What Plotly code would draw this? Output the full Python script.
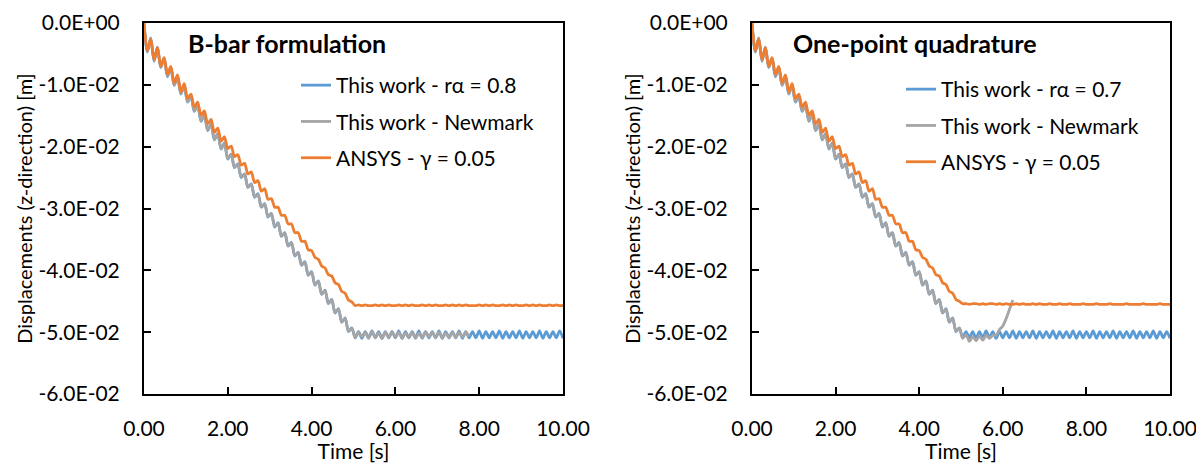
import numpy as np
import plotly.graph_objects as go

# ---------------- data (displacements in units of 1E-2 m) ----------------
time_s = [0.00, 0.08, 0.16, 0.24, 0.32, 0.40, 0.48, 0.56, 0.64, 0.72, 0.80, 0.88, 0.96,
          1.04, 1.12, 1.20, 1.28, 1.36, 1.44, 1.52, 1.60, 1.68, 1.76, 1.84, 1.92, 2.00,
          2.08, 2.16, 2.24, 2.32, 2.40, 2.48, 2.56, 2.64, 2.72, 2.80, 2.88, 2.96, 3.04,
          3.12, 3.20, 3.28, 3.36, 3.44, 3.52, 3.60, 3.68, 3.76, 3.84, 3.92, 4.00, 4.08,
          4.16, 4.24, 4.32, 4.40, 4.48, 4.56, 4.64, 4.72, 4.80, 4.88, 4.96, 5.04, 5.12,
          5.20, 5.28, 5.36, 5.44, 5.52, 5.60, 5.68, 5.76, 5.84, 5.92, 6.00, 6.08, 6.16,
          6.24, 6.32, 6.40, 6.48, 6.56, 6.64, 6.72, 6.80, 6.88, 6.96, 7.04, 7.12, 7.20,
          7.28, 7.36, 7.44, 7.52, 7.60, 7.68, 7.76, 7.84, 7.92, 8.00, 8.08, 8.16, 8.24,
          8.32, 8.40, 8.48, 8.56, 8.64, 8.72, 8.80, 8.88, 8.96, 9.04, 9.12, 9.20, 9.28,
          9.36, 9.44, 9.52, 9.60, 9.68, 9.76, 9.84, 9.92, 10.00]

# B-bar formulation
bbar_thiswork_ra08 = [
    0.00, -0.47, -0.24, -0.62, -0.39, -0.72, -0.57, -0.87, -0.72, -1.01, -0.86, -1.15, -1.01,
    -1.28, -1.18, -1.43, -1.33, -1.59, -1.48, -1.74, -1.63, -1.89, -1.79, -2.04, -1.94, -2.20,
    -2.12, -2.34, -2.28, -2.50, -2.44, -2.66, -2.60, -2.82, -2.76, -2.98, -2.92, -3.14, -3.08,
    -3.30, -3.23, -3.45, -3.39, -3.61, -3.55, -3.77, -3.71, -3.92, -3.86, -4.08, -4.02, -4.24,
    -4.17, -4.39, -4.32, -4.54, -4.47, -4.69, -4.62, -4.84, -4.77, -4.99, -4.93,
    -5.09, -4.99, -5.10, -4.99, -5.09, -4.98, -5.09, -4.99, -5.10, -4.99, -5.09, -4.99, -5.09,
    -4.98, -5.10, -4.99, -5.09, -4.99, -5.09, -4.98, -5.10, -4.99, -5.09, -4.99, -5.09, -4.98,
    -5.10, -4.99, -5.09, -4.99, -5.09, -4.98, -5.10, -4.99, -5.09, -4.99, -5.09, -4.98, -5.10,
    -4.99, -5.09, -4.99, -5.09, -4.98, -5.10, -4.99, -5.09, -4.99, -5.09, -4.98, -5.10, -4.99,
    -5.09, -4.99, -5.09, -4.98, -5.10, -4.99, -5.09, -4.99, -5.09, -4.98, -5.10]
bbar_thiswork_newmark = [
    0.00, -0.46, -0.25, -0.61, -0.40, -0.71, -0.58, -0.86, -0.73, -1.00, -0.87, -1.14, -1.02,
    -1.27, -1.19, -1.42, -1.34, -1.58, -1.49, -1.73, -1.64, -1.88, -1.80, -2.03, -1.95, -2.19,
    -2.13, -2.33, -2.29, -2.49, -2.45, -2.65, -2.61, -2.81, -2.77, -2.97, -2.93, -3.13, -3.09,
    -3.29, -3.24, -3.44, -3.40, -3.60, -3.56, -3.76, -3.72, -3.91, -3.87, -4.07, -4.03, -4.23,
    -4.18, -4.38, -4.33, -4.53, -4.48, -4.68, -4.63, -4.83, -4.78, -4.98, -4.94,
    -5.09, -4.99, -5.08, -5.00, -5.10, -4.99, -5.09, -5.01, -5.10, -5.00, -5.09, -4.99, -5.08,
    -5.00, -5.10, -5.01, -5.09, -5.00, -5.10, -5.01, -5.09, -4.99, -5.08, -5.00, -5.09, -5.00,
    -5.10, -5.01, -5.09, -5.00, -5.09, -5.00, -5.08, -5.00, -5.07]
bbar_ansys_g005 = [
    0.00, -0.45, -0.26, -0.59, -0.40, -0.70, -0.56, -0.83, -0.70, -0.97, -0.84, -1.11, -0.98,
    -1.22, -1.15, -1.36, -1.28, -1.49, -1.42, -1.63, -1.56, -1.77, -1.70, -1.91, -1.84, -2.03,
    -1.99, -2.16, -2.13, -2.30, -2.27, -2.44, -2.41, -2.58, -2.55, -2.72, -2.68, -2.85, -2.84,
    -2.98, -2.98, -3.11, -3.11, -3.25, -3.25, -3.39, -3.39, -3.53, -3.53, -3.67, -3.68, -3.79,
    -3.82, -3.93, -3.96, -4.07, -4.09, -4.20, -4.23, -4.34, -4.37, -4.48, -4.51,
    -4.57, -4.56, -4.57, -4.56, -4.57, -4.57, -4.56, -4.57, -4.56, -4.57, -4.56, -4.57, -4.57,
    -4.56, -4.57, -4.56, -4.57, -4.56, -4.57, -4.57, -4.56, -4.57, -4.56, -4.57, -4.56, -4.57,
    -4.57, -4.56, -4.57, -4.56, -4.57, -4.56, -4.57, -4.56, -4.57, -4.57, -4.57, -4.56, -4.57,
    -4.56, -4.57, -4.56, -4.57, -4.57, -4.56, -4.57, -4.56, -4.57, -4.56, -4.57, -4.57, -4.56,
    -4.57, -4.56, -4.57, -4.56, -4.57, -4.57, -4.56, -4.57, -4.56, -4.57, -4.57]

# One-point quadrature
opq_thiswork_ra07 = [
    0.00, -0.47, -0.24, -0.62, -0.39, -0.72, -0.57, -0.87, -0.72, -1.01, -0.86, -1.15, -1.01,
    -1.28, -1.18, -1.43, -1.33, -1.59, -1.48, -1.74, -1.63, -1.89, -1.79, -2.04, -1.94, -2.20,
    -2.12, -2.34, -2.28, -2.50, -2.44, -2.66, -2.60, -2.82, -2.76, -2.98, -2.92, -3.14, -3.08,
    -3.30, -3.23, -3.45, -3.39, -3.61, -3.55, -3.77, -3.71, -3.92, -3.86, -4.08, -4.02, -4.24,
    -4.17, -4.39, -4.32, -4.54, -4.47, -4.69, -4.62, -4.84, -4.77, -4.99, -4.93,
    -5.09, -4.99, -5.09, -4.99, -5.10, -4.99, -5.09, -4.98, -5.09, -4.99, -5.10, -4.99, -5.09,
    -4.99, -5.09, -4.98, -5.10, -4.99, -5.09, -4.99, -5.09, -4.98, -5.10, -4.99, -5.09, -4.99,
    -5.09, -4.98, -5.10, -4.99, -5.09, -4.99, -5.09, -4.98, -5.10, -4.99, -5.09, -4.99, -5.09,
    -4.98, -5.10, -4.99, -5.09, -4.99, -5.09, -4.98, -5.10, -4.99, -5.09, -4.99, -5.09, -4.98,
    -5.10, -4.99, -5.09, -4.99, -5.09, -4.98, -5.10, -4.99, -5.09, -4.99, -5.10]
opq_thiswork_newmark = [
    0.00, -0.46, -0.25, -0.61, -0.40, -0.71, -0.58, -0.86, -0.73, -1.00, -0.87, -1.14, -1.02,
    -1.27, -1.19, -1.42, -1.34, -1.58, -1.49, -1.73, -1.64, -1.88, -1.80, -2.03, -1.95, -2.19,
    -2.13, -2.33, -2.29, -2.49, -2.45, -2.65, -2.61, -2.81, -2.77, -2.97, -2.93, -3.13, -3.09,
    -3.29, -3.24, -3.44, -3.40, -3.60, -3.56, -3.76, -3.72, -3.91, -3.87, -4.07, -4.03, -4.23,
    -4.18, -4.38, -4.33, -4.53, -4.48, -4.68, -4.63, -4.83, -4.78, -4.98, -4.94,
    -5.10, -5.04, -5.15, -5.07, -5.14, -5.06, -5.13, -5.05, -5.10, -5.05, -5.05, -4.96, -4.90,
    -4.78, -4.63, -4.48]
opq_ansys_g005 = [
    0.00, -0.45, -0.26, -0.59, -0.40, -0.70, -0.56, -0.83, -0.70, -0.97, -0.84, -1.11, -0.98,
    -1.22, -1.15, -1.36, -1.28, -1.49, -1.42, -1.63, -1.56, -1.77, -1.70, -1.91, -1.84, -2.03,
    -1.99, -2.16, -2.13, -2.30, -2.27, -2.44, -2.41, -2.58, -2.55, -2.72, -2.68, -2.85, -2.84,
    -2.98, -2.98, -3.11, -3.11, -3.25, -3.25, -3.39, -3.39, -3.53, -3.53, -3.67, -3.68, -3.79,
    -3.82, -3.93, -3.96, -4.07, -4.09, -4.20, -4.23, -4.34, -4.37, -4.47, -4.50,
    -4.54, -4.54, -4.55, -4.54, -4.54, -4.55, -4.54, -4.55, -4.54, -4.54, -4.55, -4.54, -4.55,
    -4.54, -4.55, -4.55, -4.54, -4.55, -4.54, -4.55, -4.55, -4.54, -4.55, -4.54, -4.55, -4.55,
    -4.54, -4.55, -4.55, -4.54, -4.55, -4.55, -4.54, -4.55, -4.55, -4.55, -4.54, -4.55, -4.55,
    -4.55, -4.54, -4.55, -4.55, -4.55, -4.54, -4.55, -4.55, -4.55, -4.55, -4.54, -4.55, -4.55,
    -4.55, -4.55, -4.54, -4.55, -4.55, -4.55, -4.55, -4.54, -4.55, -4.55, -4.55]

series_names_left = ["This work - rα = 0.8", "This work - Newmark", "ANSYS - γ = 0.05"]
series_names_right = ["This work - rα = 0.7", "This work - Newmark", "ANSYS - γ = 0.05"]
panel_titles = ["B-bar formulation", "One-point quadrature"]
x_tick_values = [0, 2, 4, 6, 8, 10]
x_tick_labels = ["0.00", "2.00", "4.00", "6.00", "8.00", "10.00"]
y_tick_values = [0.0, -0.01, -0.02, -0.03, -0.04, -0.05, -0.06]
y_tick_labels = ["0.0E+00", "-1.0E-02", "-2.0E-02", "-3.0E-02", "-4.0E-02", "-5.0E-02", "-6.0E-02"]

# ---------------- styling ----------------
BLUE, GRAY, ORANGE = "#5B9BD5", "#A5A5A5", "#ED7D31"
FONT = "Lato"
OFF = 8                     # page body margin of the html page
W, H = 1204 - OFF, 463 - OFF
ML, MR, MT, MB = 144 - OFF, 34, 23 - OFF, 69
PW, PH = W - ML - MR, H - MT - MB


def px_x(px):               # viewport pixel -> paper coordinate
    return (px - OFF - ML) / PW


def px_y(py):
    return (H - MB - (py - OFF)) / PH


fig = go.Figure()


def add_series(y_cm, name, color, xa, ya, legend, group):
    y_m = np.array(y_cm) * 1e-2
    fig.add_trace(go.Scatter(
        x=time_s[:len(y_m)], y=y_m, mode="lines", name=name,
        line=dict(color=color, width=2.8, shape="spline", smoothing=0.8),
        xaxis=xa, yaxis=ya, legend=legend, legendgroup=group))


add_series(bbar_thiswork_ra08, series_names_left[0], BLUE, "x", "y", "legend", "a1")
add_series(bbar_thiswork_newmark, series_names_left[1], GRAY, "x", "y", "legend", "a2")
add_series(bbar_ansys_g005, series_names_left[2], ORANGE, "x", "y", "legend", "a3")
add_series(opq_thiswork_ra07, series_names_right[0], BLUE, "x2", "y2", "legend2", "b1")
add_series(opq_thiswork_newmark, series_names_right[1], GRAY, "x2", "y2", "legend2", "b2")
add_series(opq_ansys_g005, series_names_right[2], ORANGE, "x2", "y2", "legend2", "b3")

TICK_FONT = dict(family=FONT, size=21, color="black")
axis_common = dict(showline=True, linecolor="black", linewidth=2, mirror=True,
                   ticks="inside", ticklen=7, tickwidth=2, tickcolor="black",
                   showgrid=False, zeroline=False, automargin=False,
                   tickfont=TICK_FONT)

xaxis_common = dict(axis_common, range=[0, 10], tickmode="array",
                    tickvals=x_tick_values, ticktext=x_tick_labels,
                    ticklabelstandoff=15,
                    title=dict(text="Time [s]", font=dict(family=FONT, size=21, color="black"),
                               standoff=0))
yaxis_common = dict(axis_common, range=[-0.06, 0], tickmode="array",
                    tickvals=y_tick_values, ticktext=y_tick_labels,
                    ticklabelstandoff=18,
                    title=dict(text="Displacements (z-direction) [m]",
                               font=dict(family=FONT, size=20, color="black"),
                               standoff=0))

x1_dom = [0, px_x(563)]
x2_dom = [px_x(752), 1]

legend_common = dict(font=dict(family=FONT, size=21, color="black"),
                     bgcolor="rgba(0,0,0,0)", borderwidth=0, xanchor="left",
                     yanchor="top", traceorder="grouped", tracegroupgap=6,
                     itemwidth=30)

fig.update_layout(
    width=W, height=H,
    margin=dict(l=ML, r=MR, t=MT, b=MB),
    paper_bgcolor="white", plot_bgcolor="white",
    font=dict(family=FONT, size=21, color="black"),
    xaxis=dict(xaxis_common, domain=x1_dom, anchor="y"),
    yaxis=dict(yaxis_common, domain=[0, 1], anchor="x"),
    xaxis2=dict(xaxis_common, domain=x2_dom, anchor="y2"),
    yaxis2=dict(yaxis_common, domain=[0, 1], anchor="x2"),
    legend=dict(legend_common, x=px_x(296), y=px_y(65)),
    legend2=dict(legend_common, x=px_x(901), y=px_y(69)),
    showlegend=True,
    annotations=[
        dict(text="<b>" + panel_titles[0] + "</b>", x=px_x(186), y=px_y(43),
             xref="paper", yref="paper", xanchor="left", yanchor="middle",
             showarrow=False, font=dict(family=FONT, size=25, color="black")),
        dict(text="<b>" + panel_titles[1] + "</b>", x=px_x(791), y=px_y(43),
             xref="paper", yref="paper", xanchor="left", yanchor="middle",
             showarrow=False, font=dict(family=FONT, size=25, color="black")),
    ],
)

fig.write_html("out.html")
